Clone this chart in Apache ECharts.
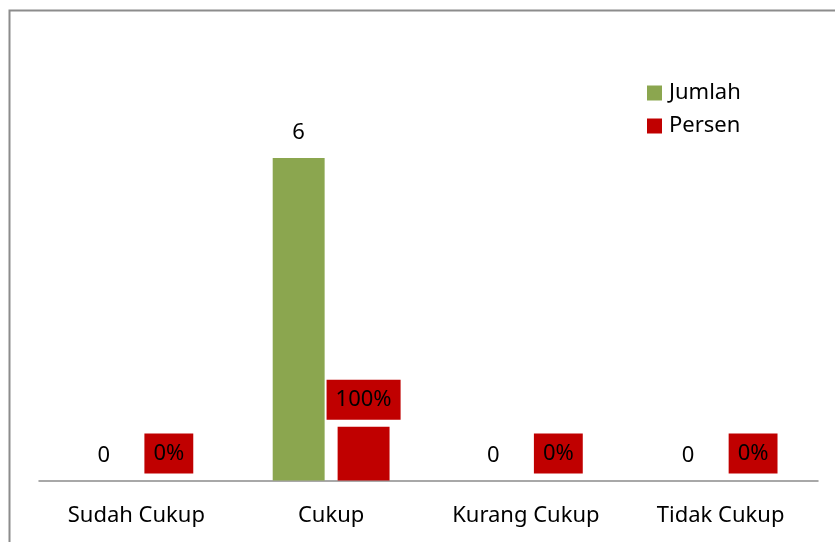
<!DOCTYPE html>
<html>
<head>
<meta charset="utf-8">
<script src="https://cdn.jsdelivr.net/npm/echarts@6/dist/echarts.min.js"></script>
<style>
html, body { margin: 0; padding: 0; background: #fff; }
#chart { width: 835px; height: 542px; }
</style>
</head>
<body>
<div id="chart"></div>
<script>
// data
let categories = ['Sudah Cukup', 'Cukup', 'Kurang Cukup', 'Tidak Cukup']
let jumlah = [0, 6, 0, 0]
let persen = [0, 1, 0, 0]   // fraction, shown as percent

let font = 'Noto Sans'
let mychart = echarts.init(document.getElementById('chart'))

let options = {
    animation: false,
    textStyle: { fontFamily: font },
    graphic: [
        {
            type: 'rect',
            shape: { x: 9.5, y: 10.5, width: 900, height: 600 },
            style: { fill: 'none', stroke: '#8c8c8c', lineWidth: 2 }
        }
    ],
    legend: {
        orient: 'vertical',
        left: 647,
        top: 82,
        padding: 0,
        itemWidth: 15,
        itemHeight: 15,
        itemGap: 11,
        icon: 'rect',
        textStyle: { fontSize: 22, color: '#000', fontFamily: font, padding: [0, 0, 0, 2] },
        data: ['Jumlah', 'Persen']
    },
    grid: { left: 39, right: 17, top: 50.5, bottom: 61.5, containLabel: false },
    xAxis: {
        type: 'category',
        data: categories,
        axisLine: { lineStyle: { color: '#8c8c8c', width: 1.5 } },
        axisTick: { show: false },
        axisLabel: { fontSize: 22, color: '#000', margin: 24, fontFamily: font }
    },
    yAxis: {
        type: 'value',
        min: 0,
        max: 8,
        show: false,
        splitLine: { show: false }
    },
    series: [
        {
            name: 'Jumlah',
            type: 'bar',
            data: jumlah,
            barGap: '25%',
            barCategoryGap: '40%',
            itemStyle: { color: '#8ba64f' },
            label: {
                show: true,
                position: 'top',
                distance: 7,
                padding: [7, 8],
                fontSize: 22,
                color: '#000',
                fontFamily: font
            }
        },
        {
            name: 'Persen',
            type: 'bar',
            data: persen,
            itemStyle: { color: '#c00000' },
            label: {
                show: true,
                position: 'top',
                distance: 7,
                padding: [9, 9],
                fontSize: 22,
                color: '#000',
                fontFamily: font,
                backgroundColor: '#c00000',
                formatter: (p) => Math.round(p.value * 100) + '%'
            }
        }
    ]
}

mychart.setOption(options)
</script>
</body>
</html>
